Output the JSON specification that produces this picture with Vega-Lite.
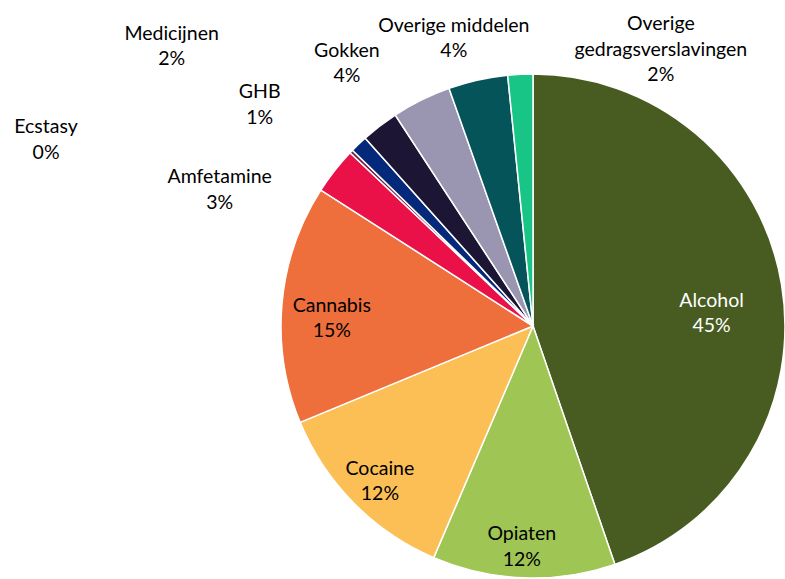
{
  "$schema": "https://vega.github.io/schema/vega-lite/v6.json",
  "autosize": {"type": "none"},
  "width": 504,
  "height": 504,
  "padding": {"left": 281, "top": 74, "right": 0, "bottom": 1},
  "background": "white",
  "config": {"view": {"stroke": null}},
  "data": {
    "values": [
      {"rank": 1, "category": "Alcohol", "share": 0.447},
      {"rank": 2, "category": "Opiaten", "share": 0.117},
      {"rank": 3, "category": "Cocaine", "share": 0.123},
      {"rank": 4, "category": "Cannabis", "share": 0.153},
      {"rank": 5, "category": "Amfetamine", "share": 0.030},
      {"rank": 6, "category": "Ecstasy", "share": 0.0022},
      {"rank": 7, "category": "GHB", "share": 0.011},
      {"rank": 8, "category": "Medicijnen", "share": 0.024},
      {"rank": 9, "category": "Gokken", "share": 0.038},
      {"rank": 10, "category": "Overige middelen", "share": 0.038},
      {"rank": 11, "category": "Overige gedragsverslavingen", "share": 0.016}
    ]
  },
  "encoding": {
    "theta": {"field": "share", "type": "quantitative", "stack": true},
    "order": {"field": "rank", "type": "quantitative", "sort": "ascending"}
  },
  "layer": [
    {
      "mark": {"type": "arc", "stroke": "#ffffff", "strokeWidth": 1.5},
      "encoding": {
        "color": {
          "field": "category",
          "type": "nominal",
          "scale": {
            "domain": ["Alcohol", "Opiaten", "Cocaine", "Cannabis", "Amfetamine", "Ecstasy", "GHB", "Medicijnen", "Gokken", "Overige middelen", "Overige gedragsverslavingen"],
            "range": ["#485b20", "#9fc554", "#fbbf56", "#ee6e3c", "#ea1149", "#7a1c40", "#04297b", "#1c1634", "#9a95b1", "#05545a", "#18c486"]
          },
          "legend": null
        }
      }
    },
    {
      "mark": {
        "type": "text",
        "font": "Lato",
        "fontSize": 19.5,
        "lineHeight": 25.5,
        "align": "center",
        "baseline": "middle",
        "radius": {"expr": "({'Alcohol':180,'Opiaten':221,'Cocaine':218,'Cannabis':201})[datum.category] || 262"},
        "dx": {"expr": "({'Alcohol':1,'Opiaten':-3,'Cocaine':2,'Cannabis':-1,'Amfetamine':-107,'Ecstasy':-298,'GHB':-92,'Medicijnen':-202,'Gokken':-70,'Overige middelen':-22,'Overige gedragsverslavingen':141})[datum.category]"},
        "dy": {"expr": "({'Alcohol':4.5,'Opiaten':-12.5,'Cocaine':-10.5,'Cannabis':-2.5,'Amfetamine':12.5,'Ecstasy':-17.5,'GHB':-44.5,'Medicijnen':-84.5,'Gokken':-40.5,'Overige middelen':-44.5,'Overige gedragsverslavingen':-40})[datum.category]"},
        "text": {"expr": "datum.category === 'Overige gedragsverslavingen' ? ['Overige', 'gedragsverslavingen', format(datum.share, '.0%')] : [datum.category, format(datum.share, '.0%')]"}
      },
      "encoding": {
        "detail": {"field": "category", "type": "nominal"},
        "color": {"condition": {"test": "datum.category === 'Alcohol'", "value": "#ffffff"}, "value": "#000000"}
      }
    }
  ]
}
